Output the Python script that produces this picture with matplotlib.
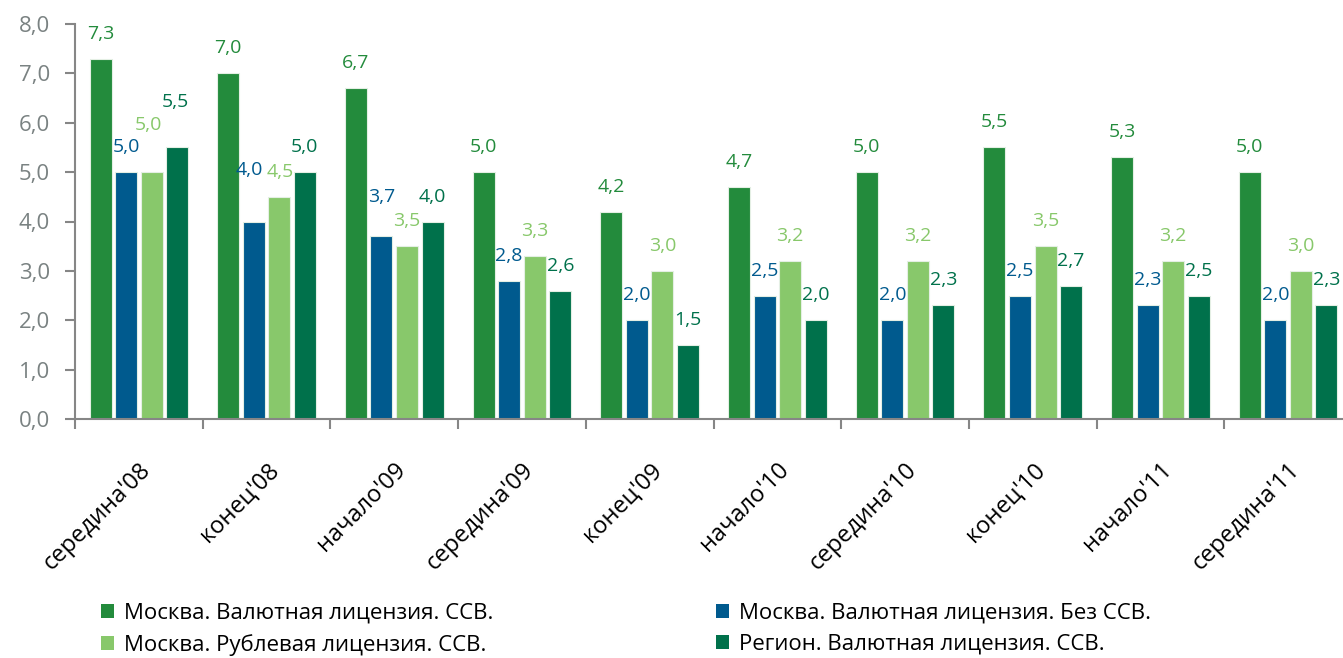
import matplotlib
matplotlib.use("Agg")
import matplotlib.pyplot as plt
from matplotlib.patches import Patch
import numpy as np

plt.rcParams["font.family"] = ["Open Sans", "DejaVu Sans"]

# %% data
categories = ["середина'08", "конец'08", "начало'09", "середина'09", "конец'09",
              "начало'10", "середина'10", "конец'10", "начало'11", "середина'11"]
moscow_fx_ssv = [7.3, 7.0, 6.7, 5.0, 4.2, 4.7, 5.0, 5.5, 5.3, 5.0]
moscow_fx_no_ssv = [5.0, 4.0, 3.7, 2.8, 2.0, 2.5, 2.0, 2.5, 2.3, 2.0]
moscow_rub_ssv = [5.0, 4.5, 3.5, 3.3, 3.0, 3.2, 3.2, 3.5, 3.2, 3.0]
region_fx_ssv = [5.5, 5.0, 4.0, 2.6, 1.5, 2.0, 2.3, 2.7, 2.5, 2.3]

series_names = ["Москва. Валютная лицензия. ССВ.",
                "Москва. Валютная лицензия. Без ССВ.",
                "Москва. Рублевая лицензия. ССВ.",
                "Регион. Валютная лицензия. ССВ."]
series_values = [moscow_fx_ssv, moscow_fx_no_ssv, moscow_rub_ssv, region_fx_ssv]
colors = ["#238b3c", "#005a8e", "#88c86b", "#00714b"]

# label nudges (points, dx, dy) for labels moved to avoid overlaps: (series, category)
label_nudge = {(2, 0): (-2, 16), (3, 0): (-1, 15), (1, 1): (-3, 19),
               (2, 1): (1, 0), (1, 2): (0, 10)}

# %% plot
fig = plt.figure(figsize=(13.43, 6.58), dpi=100)
ax = fig.add_axes([75 / 1343, 239 / 658, 1277 / 1343, 395 / 658])

x = np.arange(len(categories))
offsets = [-0.30, -0.10, 0.10, 0.30]
width = 0.172

for s, (vals, col) in enumerate(zip(series_values, colors)):
    ax.bar(x + offsets[s], vals, width=width, color=col,
           edgecolor="#e4efe4", linewidth=0.8, zorder=2)
    for i, v in enumerate(vals):
        dx, dy = label_nudge.get((s, i), (0, 0))
        ax.annotate(f"{v:.1f}".replace(".", ","), (x[i] + offsets[s], v),
                    xytext=(dx, 18 + dy), textcoords="offset points",
                    ha="center", va="center", color=col, fontsize=14)

ax.set_xlim(-0.5, len(categories) - 0.5)
ax.set_ylim(0, 8)
yt = np.arange(0, 9)
ax.set_yticks(yt)
ax.set_yticklabels([f"{t:.1f}".replace(".", ",") for t in yt],
                   color="#7a8282", fontsize=16)

ax.set_xticks(x)
ax.set_xticklabels(categories, rotation=45, ha="right",
                   rotation_mode="anchor", fontsize=17)
ax.set_xticks(np.arange(-0.5, len(categories)), minor=True)
ax.tick_params(axis="x", which="major", length=0, pad=28)
ax.tick_params(axis="x", which="minor", length=7, width=1.5, color="#868686")
ax.tick_params(axis="y", length=7, width=1.5, color="#868686", pad=11)

for sp in ["top", "right"]:
    ax.spines[sp].set_visible(False)
for sp in ["left", "bottom"]:
    ax.spines[sp].set_color("#868686")
    ax.spines[sp].set_linewidth(1.5)

order = [0, 2, 1, 3]
handles = [Patch(facecolor=colors[k], edgecolor="none") for k in order]
labels = [series_names[k] for k in order]
fig.legend(handles, labels, loc="upper left",
           bbox_to_anchor=(101 / 1343, 1 - 603 / 658), ncol=2, frameon=False,
           fontsize=16, handlelength=0.6, handleheight=0.6, handletextpad=0.45,
           labelspacing=0.45, columnspacing=10.0, borderpad=0, borderaxespad=0)

fig.savefig("out.png", dpi=100)
